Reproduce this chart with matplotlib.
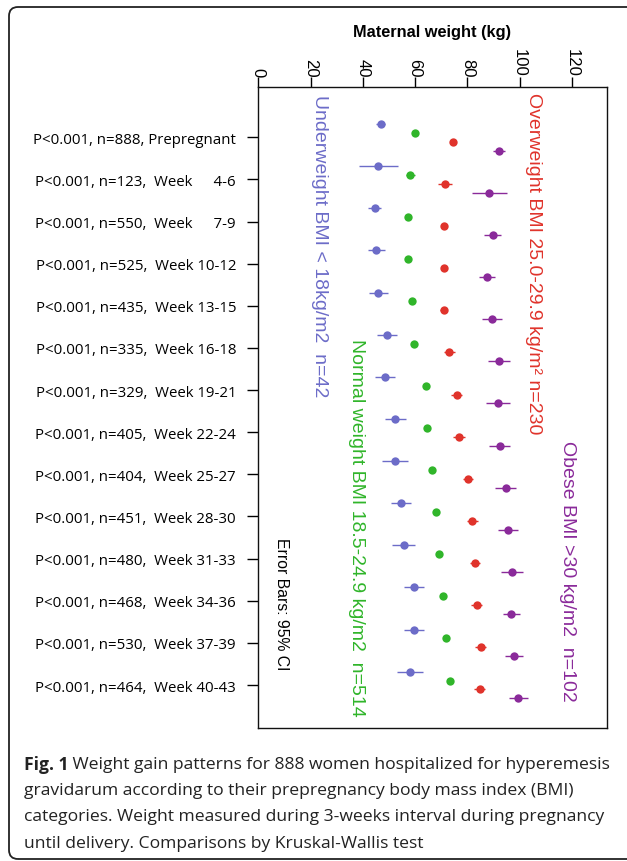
import matplotlib
matplotlib.use('Agg')
import matplotlib.pyplot as plt
import numpy as np
from matplotlib.patches import FancyBboxPatch
from matplotlib.transforms import IdentityTransform

# ---------------- data ----------------
row_labels = [
    "P<0.001, n=888, Prepregnant",
    "P<0.001, n=123,  Week \u2007\u20074-6",
    "P<0.001, n=550,  Week \u2007\u20077-9",
    "P<0.001, n=525,  Week 10-12",
    "P<0.001, n=435,  Week 13-15",
    "P<0.001, n=335,  Week 16-18",
    "P<0.001, n=329,  Week 19-21",
    "P<0.001, n=405,  Week 22-24",
    "P<0.001, n=404,  Week 25-27",
    "P<0.001, n=451,  Week 28-30",
    "P<0.001, n=480,  Week 31-33",
    "P<0.001, n=468,  Week 34-36",
    "P<0.001, n=530,  Week 37-39",
    "P<0.001, n=464,  Week 40-43",
]

under_mean = [46.8, 45.9, 44.5, 45.2, 46.0, 49.2, 48.5, 52.4, 52.5, 54.5, 55.6, 59.6, 59.6, 58.2]
under_ci   = [1.8, 7.4, 2.4, 3.2, 3.6, 3.8, 3.9, 4.0, 5.0, 3.8, 4.5, 4.0, 4.0, 5.0]
normal_mean = [60.1, 58.2, 57.3, 57.2, 58.7, 59.6, 64.1, 64.5, 66.5, 67.9, 69.1, 70.6, 71.7, 73.3]
normal_ci   = [0.6, 1.6, 0.8, 0.8, 0.8, 1.0, 0.8, 0.8, 0.8, 0.9, 0.9, 0.9, 0.9, 0.9]
over_mean = [74.7, 71.5, 71.2, 71.0, 71.0, 73.1, 75.9, 76.8, 80.2, 82.0, 82.9, 83.6, 85.1, 84.7]
over_ci   = [1.0, 2.6, 1.2, 1.2, 1.3, 2.1, 2.1, 2.2, 1.9, 2.0, 2.0, 2.0, 2.2, 2.0]
obese_mean = [92.2, 88.5, 89.7, 87.5, 89.4, 92.1, 91.7, 92.5, 94.8, 95.5, 97.2, 96.9, 97.8, 99.6]
obese_ci   = [2.3, 6.7, 3.4, 3.1, 3.8, 4.2, 4.6, 4.0, 4.0, 3.9, 4.1, 3.2, 3.4, 3.8]

group_labels = [
    "Underweight BMI < 18kg/m2  n=42",
    "Normal weight BMI 18.5-24.9 kg/m2  n=514",
    "Overweight BMI 25.0-29.9 kg/m\u00b2 n=230",
    "Obese BMI >30 kg/m2  n=102",
]
group_colors = ["#6c6cc8", "#30b52a", "#e0332b", "#8a2a9a"]
x_ticks = [0, 20, 40, 60, 80, 100, 120]
x_ticklabels = ["0", "20", "40", "60", "80", "100", "120"]

caption_bold = "Fig. 1"
caption_lines = [
    " Weight gain patterns for 888 women hospitalized for hyperemesis",
    "gravidarum according to their prepregnancy body mass index (BMI)",
    "categories. Weight measured during 3-weeks interval during pregnancy",
    "until delivery. Comparisons by Kruskal-Wallis test",
]

# ---------------- figure ----------------
W, H = 627, 862
fig = plt.figure(figsize=(W / 100, H / 100), dpi=100)

# outer rounded frame (pixel coordinates)
frame = FancyBboxPatch((9, H - 860), 700, 860 - 8,
                       boxstyle="round,pad=0,rounding_size=9",
                       transform=IdentityTransform(), fill=False,
                       edgecolor="#222222", linewidth=1.3)
fig.patches.append(frame)

ax = fig.add_axes([258.3 / W, 1 - 729 / H, (606.5 - 258.3) / W, (729 - 88.3) / H])

means = [under_mean, normal_mean, over_mean, obese_mean]
cis = [under_ci, normal_ci, over_ci, obese_ci]
offsets = [-0.315, -0.105, 0.105, 0.315]
rows = np.arange(len(row_labels))
for m, c, off, col in zip(means, cis, offsets, group_colors):
    ax.errorbar(m, rows + off, xerr=c, fmt='o', color=col, ecolor=col,
                markersize=6, elinewidth=1.0, capsize=1.6, capthick=1.0,
                markeredgewidth=0)

ax.set_xlim(0, 133.3)
ax.set_ylim(14.02, -1.187)

ax.xaxis.tick_top()
ax.xaxis.set_label_position('top')
ax.set_xticks(x_ticks)
ax.set_xticklabels(x_ticklabels, rotation=270, ha='center', va='bottom',
                   family='Liberation Sans', fontsize=12)
ax.tick_params(axis='x', length=7, width=1, pad=1)
ax.set_xlabel("Maternal weight (kg)", family='Liberation Sans', fontweight='bold',
              fontsize=11.8, labelpad=9)

ax.set_yticks(rows)
ax.set_yticklabels(row_labels, family=['Open Sans', 'DejaVu Sans'], fontsize=10.8)
ax.tick_params(axis='y', length=8, width=1, pad=8)

for s in ax.spines.values():
    s.set_linewidth(1.0)
    s.set_color('#111111')

# group annotations (rotated, reading downward)
ann_pos = [(0.177, 0.9895), (0.281, 0.6087), (0.789, 0.9927), (0.887, 0.450)]
for lab, col, (px, py) in zip(group_labels, group_colors, ann_pos):
    ax.text(px, py, lab, rotation=270, ha='center', va='top', color=col,
            family='Liberation Sans', fontsize=14, transform=ax.transAxes)
ax.text(0.068, 0.298, "Error Bars: 95% CI", rotation=270, ha='center', va='top',
        color='black', family='Liberation Sans', fontsize=11.3, transform=ax.transAxes)

# caption
cap_kw = dict(family=['Open Sans', 'DejaVu Sans'], fontsize=12.6, color='#222222', va='center')
y0 = 765
t = fig.text(24 / W, 1 - y0 / H, caption_bold, fontweight='bold', **cap_kw)
fig.canvas.draw()
bb = t.get_window_extent()
fig.text(bb.x1 / W, 1 - y0 / H, caption_lines[0], **cap_kw)
for i, line in enumerate(caption_lines[1:], start=1):
    fig.text(24 / W, 1 - (y0 + 26.2 * i) / H, line, **cap_kw)

fig.savefig("out.png", dpi=100)
